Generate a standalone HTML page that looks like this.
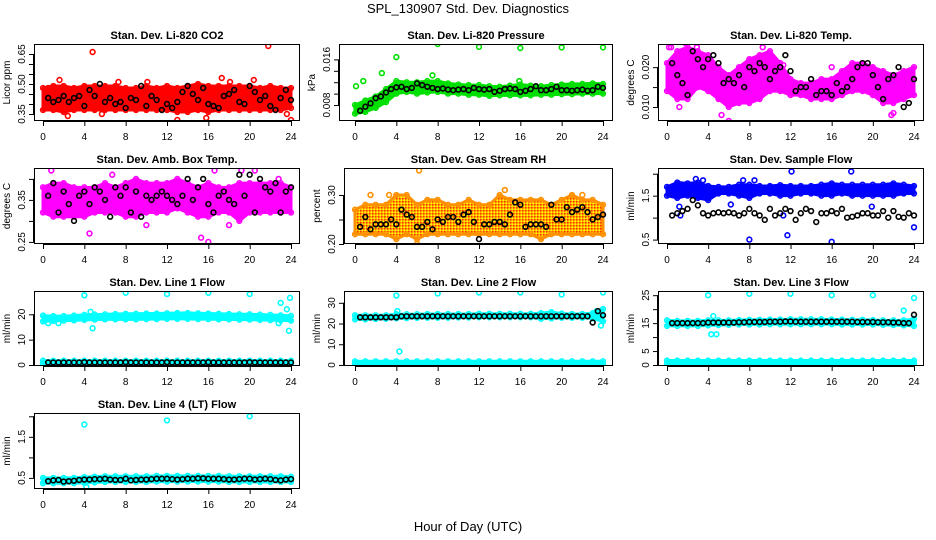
<!DOCTYPE html>
<html><head><meta charset="utf-8"><style>
html,body{margin:0;padding:0;background:#fff;}
svg{display:block;font-family:"Liberation Sans",Arial,sans-serif;}
</style></head><body>
<svg id="chart" width="936" height="540" viewBox="0 0 936 540" xmlns="http://www.w3.org/2000/svg">
<defs>
<pattern id="rhpat" width="3" height="3" patternUnits="userSpaceOnUse">
<rect width="3" height="3" fill="#ffb000"/>
<rect width="1.5" height="1.5" fill="#ff3000"/>
<rect x="1.5" y="1.5" width="1.5" height="1.5" fill="#ffff00"/>
</pattern>
</defs>
<rect width="936" height="540" fill="#fff"/>
<text x="468" y="13" text-anchor="middle" font-size="13">SPL_130907  Std. Dev. Diagnostics</text>
<text x="468" y="531" text-anchor="middle" font-size="13">Hour of Day (UTC)</text>
<g id="panels"></g>
</svg>
<script>
// ---- shared x data ----
const xTicks = [0,4,8,12,16,20,24];
const bandHours = [0,1,2,3,4,5,6,7,8,9,10,11,12,13,14,15,16,17,18,19,20,21,22,23,24];
const blackHours = [0.5,1,1.5,2,2.5,3,3.5,4,4.5,5,5.5,6,6.5,7,7.5,8,8.5,9,9.5,10,10.5,11,11.5,12,12.5,13,13.5,14,14.5,15,15.5,16,16.5,17,17.5,18,18.5,19,19.5,20,20.5,21,21.5,22,22.5,23,23.5,24];

// ---- panel 1: CO2 ----
const p1Lo = [0.37,0.37,0.36,0.37,0.37,0.37,0.37,0.37,0.37,0.37,0.37,0.37,0.37,0.36,0.36,0.37,0.36,0.37,0.37,0.37,0.37,0.37,0.37,0.37,0.38];
const p1Hi = [0.48,0.49,0.49,0.48,0.49,0.49,0.49,0.49,0.48,0.48,0.49,0.48,0.49,0.48,0.49,0.50,0.49,0.49,0.49,0.49,0.49,0.48,0.49,0.48,0.48];
const p1OutX = [4.8,21.8,24,1.6,17.3,20.4,13,15.8,2.4,0.5,7.3,10.1,18.1,5.7,23.6];
const p1OutY = [0.66,0.69,0.32,0.52,0.53,0.52,0.32,0.33,0.34,0.48,0.51,0.51,0.51,0.35,0.35];
const p1Black = [0.43,0.41,0.42,0.44,0.41,0.43,0.44,0.39,0.47,0.44,0.50,0.41,0.43,0.40,0.41,0.38,0.43,0.42,0.49,0.39,0.44,0.42,0.37,0.40,0.38,0.41,0.46,0.49,0.45,0.42,0.48,0.40,0.39,0.38,0.44,0.45,0.47,0.41,0.40,0.49,0.46,0.42,0.44,0.39,0.37,0.43,0.47,0.42];
// ---- panel 2: Pressure ----
const p2Lo = [0.0065,0.0068,0.0075,0.0085,0.0100,0.0103,0.0100,0.0102,0.0103,0.0100,0.0100,0.0098,0.0098,0.0096,0.0097,0.0097,0.0097,0.0097,0.0098,0.0098,0.0099,0.0099,0.0100,0.0100,0.0100];
const p2Hi = [0.0080,0.0088,0.0095,0.0108,0.0122,0.0120,0.0120,0.0122,0.0122,0.0118,0.0116,0.0115,0.0115,0.0113,0.0112,0.0114,0.0116,0.0114,0.0113,0.0115,0.0116,0.0117,0.0117,0.0118,0.0117];
const p2OutX = [0.1,0.8,2.6,4,8,12,16,20,24,7.5,15.9];
const p2OutY = [0.0113,0.0122,0.0136,0.0164,0.0187,0.0182,0.0180,0.0181,0.0181,0.0132,0.0122];
const p2Black = [0.0070,0.0077,0.0083,0.0092,0.0095,0.0102,0.0108,0.0111,0.0112,0.0108,0.0110,0.0118,0.0115,0.0112,0.0110,0.0108,0.0109,0.0107,0.0106,0.0107,0.0108,0.0106,0.0110,0.0108,0.0107,0.0108,0.0103,0.0105,0.0108,0.0109,0.0108,0.0103,0.0105,0.0108,0.0113,0.0106,0.0106,0.0108,0.0112,0.0106,0.0106,0.0105,0.0106,0.0107,0.0105,0.0106,0.0112,0.0110];
// ---- panel 3: Temp ----
const p3Lo = [0.014,0.012,0.012,0.015,0.014,0.012,0.010,0.011,0.011,0.012,0.014,0.014,0.013,0.013,0.012,0.012,0.012,0.013,0.014,0.014,0.013,0.011,0.011,0.012,0.013];
const p3Hi = [0.021,0.024,0.025,0.024,0.023,0.020,0.018,0.020,0.022,0.023,0.024,0.021,0.017,0.016,0.016,0.017,0.017,0.019,0.021,0.021,0.020,0.019,0.018,0.019,0.020];
const p3OutX = [0.2,1.8,6,5.3,1.2,21.8,22,16,11.3,9.3,0.4,2.9];
const p3OutY = [0.025,0.026,0.0065,0.008,0.010,0.008,0.0085,0.020,0.0205,0.025,0.025,0.025];
const p3Black = [0.021,0.018,0.016,0.013,0.024,0.022,0.020,0.022,0.023,0.021,0.016,0.017,0.016,0.018,0.015,0.020,0.019,0.021,0.020,0.017,0.019,0.020,0.023,0.019,0.014,0.015,0.015,0.017,0.013,0.014,0.014,0.013,0.016,0.014,0.015,0.017,0.020,0.021,0.021,0.018,0.015,0.012,0.017,0.018,0.020,0.010,0.011,0.017];
// ---- panel 4: Amb box temp ----
const p4Lo = [0.32,0.31,0.31,0.31,0.31,0.32,0.32,0.32,0.31,0.31,0.32,0.32,0.32,0.33,0.32,0.31,0.31,0.32,0.32,0.30,0.32,0.32,0.32,0.32,0.32];
const p4Hi = [0.38,0.39,0.39,0.38,0.38,0.38,0.39,0.38,0.39,0.40,0.39,0.39,0.39,0.40,0.39,0.38,0.39,0.38,0.38,0.39,0.39,0.39,0.39,0.39,0.38];
const p4OutX = [0.8,16.6,19.2,4.5,15.3,16,10,18,22.8,6.7,20.5];
const p4OutY = [0.42,0.42,0.42,0.27,0.26,0.25,0.29,0.29,0.40,0.41,0.42];
const p4Black = [0.36,0.39,0.32,0.37,0.34,0.30,0.36,0.37,0.34,0.38,0.37,0.35,0.31,0.38,0.36,0.38,0.32,0.37,0.31,0.36,0.35,0.36,0.37,0.36,0.35,0.34,0.36,0.40,0.35,0.38,0.40,0.34,0.32,0.36,0.37,0.35,0.34,0.41,0.36,0.41,0.32,0.40,0.38,0.37,0.39,0.32,0.37,0.38];
// ---- panel 5: RH ----
const p5Lo = [0.22,0.22,0.22,0.22,0.21,0.22,0.21,0.22,0.22,0.22,0.22,0.22,0.22,0.22,0.22,0.22,0.22,0.22,0.21,0.22,0.22,0.22,0.22,0.22,0.22];
const p5Hi = [0.27,0.28,0.28,0.28,0.30,0.30,0.28,0.29,0.29,0.28,0.28,0.29,0.28,0.28,0.30,0.29,0.29,0.29,0.29,0.28,0.29,0.30,0.29,0.29,0.28];
const p5OutX = [6.2,14.5,6,22,3.3,1.5];
const p5OutY = [0.35,0.31,0.20,0.30,0.30,0.30];
const p5Black = [0.235,0.255,0.23,0.24,0.24,0.24,0.25,0.24,0.27,0.26,0.255,0.235,0.235,0.245,0.23,0.25,0.245,0.255,0.255,0.245,0.26,0.265,0.245,0.21,0.24,0.24,0.245,0.245,0.24,0.26,0.285,0.28,0.235,0.24,0.24,0.24,0.235,0.28,0.25,0.25,0.275,0.265,0.27,0.275,0.265,0.25,0.255,0.26];
// ---- panel 6: Sample flow ----
const p6Lo = [1.5,1.45,1.5,1.45,1.4,1.55,1.55,1.5,1.45,1.55,1.55,1.5,1.5,1.55,1.55,1.5,1.5,1.55,1.5,1.5,1.5,1.5,1.5,1.55,1.55];
const p6Hi = [1.7,1.8,1.78,1.8,1.72,1.7,1.7,1.75,1.75,1.72,1.72,1.74,1.72,1.72,1.72,1.75,1.78,1.75,1.75,1.75,1.75,1.75,1.78,1.75,1.72];
const p6OutX = [8,11.7,16,24,12.1,17.9,2.8,7.4,1.2,6.2,19.9,1.3,11.3,8.5,3.5];
const p6OutY = [0.5,0.6,0.45,0.78,2.05,2.05,1.88,1.85,1.25,1.3,1.25,1.05,1.05,1.85,1.85];
const p6Black = [1.05,1.1,1.15,1.2,1.4,1.28,1.1,1.05,1.1,1.12,1.1,1.12,1.1,1.05,1.1,1.2,1.1,1.05,0.95,1.2,1.05,1.1,1.2,1.15,0.95,1.1,1.2,1.15,0.9,1.1,1.1,1.15,1.1,1.2,1.0,1.02,1.05,1.1,1.1,1.05,1.05,1.15,1.0,1.15,1.02,1.0,1.1,1.05];
// ---- panel 7: Line 1 ----
const p7Lo = [17.2,17.4,17.5,17.6,17.8,17.9,18,18,18,18,18.1,18.1,18.2,18.2,18.2,18.1,18.1,18,18,17.9,17.9,17.8,17.7,17.6,17.5];
const p7Hi = [19.5,19.3,19.3,19.5,19.8,19.9,20,20.1,20.2,20.2,20.3,20.3,20.4,20.5,20.5,20.4,20.3,20.2,20.1,20,20,19.9,19.8,19.6,19.4];
const p7Lo2 = [0.6,0.6,0.6,0.6,0.6,0.6,0.6,0.6,0.6,0.6,0.6,0.6,0.6,0.6,0.6,0.6,0.6,0.6,0.6,0.6,0.6,0.6,0.6,0.6,0.6];
const p7Hi2 = [1.7,1.7,1.7,1.7,1.7,1.7,1.7,1.7,1.7,1.7,1.7,1.7,1.7,1.7,1.7,1.7,1.7,1.7,1.7,1.7,1.7,1.7,1.7,1.7,1.7];
const p7OutX = [4,8,12,16,20,23,23.6,23.9,4.8,23.8,0.5,1.5,4.6,22.8];
const p7OutY = [27.5,28.5,28,28.5,28,24.5,22,26.5,14.5,13.5,16.5,16.5,21,16.5];
const p7Black = [1,1,1,1,1,1,1,1.1,1,1,1,1,1,1,1,1.1,1,1,1,1,1,1,1,1.1,1,1,1,1,1,1,1,1.1,1,1,1,1,1,1,1,1.1,1,1,1,1,1,1,1,1];
// ---- panel 8: Line 2 ----
const p8Lo = [22,22,22.2,22.3,22.5,22.6,22.7,22.8,22.8,22.8,22.9,22.9,23,23,23,23,23,23,22.3,22.5,22.8,22.8,22.8,22.5,21];
const p8Hi = [24,24,24,24,24.5,24.5,24.5,24.6,24.6,24.6,24.6,24.6,24.7,24.7,24.7,24.7,24.7,24.7,25,25.5,24.8,24.6,24.6,25,27];
const p8Lo2 = [0.5,0.5,0.5,0.5,0.5,0.5,0.5,0.5,0.5,0.5,0.5,0.5,0.5,0.5,0.5,0.5,0.5,0.5,0.5,0.5,0.5,0.5,0.5,0.5,0.5];
const p8Hi2 = [1.8,1.8,1.8,1.8,1.8,1.8,1.8,1.8,1.8,1.8,1.8,1.8,1.8,1.8,1.8,1.8,1.8,1.8,1.8,1.8,1.8,1.8,1.8,1.8,1.8];
const p8OutX = [4,8,12,16,20,24,4.3,4.1,23.4,23.8];
const p8OutY = [33.5,34.5,35,35,34,35,6.5,26,26,19];
const p8Black = [23,23,23,23,23,23,23,23,23.5,23.5,23.5,23.5,23.5,23.5,23.5,23.5,23.5,23.5,23.5,23.5,23.5,23.5,23.5,23.5,23.5,23.5,23.5,23.5,23.5,23.5,23.5,23.5,23.5,23.5,23.5,23.5,23.5,23.5,23.5,23.5,23.5,23.5,23.5,23.5,23.5,20.5,26,24];
// ---- panel 9: Line 3 ----
const p9Lo = [14,14,14,14,14.2,14.3,14.4,14.5,14.5,14.5,14.6,14.6,14.6,14.6,14.6,14.6,14.6,14.5,14.5,14.5,14.5,14.4,14.3,14.2,14];
const p9Hi = [16,15.8,15.8,15.8,16,16,16,16.1,16.2,16.2,16.3,16.3,16.4,16.4,16.4,16.4,16.3,16.3,16.2,16.2,16.1,16,16,16,16.5];
const p9Lo2 = [0.5,0.5,0.5,0.5,0.5,0.5,0.5,0.5,0.5,0.5,0.5,0.5,0.5,0.5,0.5,0.5,0.5,0.5,0.5,0.5,0.5,0.5,0.5,0.5,0.5];
const p9Hi2 = [1.6,1.6,1.6,1.6,1.6,1.6,1.6,1.6,1.6,1.6,1.6,1.6,1.6,1.6,1.6,1.6,1.6,1.6,1.6,1.6,1.6,1.6,1.6,1.6,1.6];
const p9OutX = [4,8,12,16,20,24,23,4.5,4.3,4.8];
const p9OutY = [25,25.5,25.5,25,25,24,19.5,17.5,11,11];
const p9Black = [15,15,15,15,15,15,15,15.2,15.2,15.2,15.2,15.2,15.2,15.3,15.3,15.4,15.4,15.4,15.4,15.5,15.5,15.5,15.6,15.6,15.5,15.5,15.5,15.5,15.5,15.5,15.5,15.5,15.5,15.5,15.5,15.5,15.4,15.4,15.4,15.4,15.3,15.3,15.3,15.2,15.2,15,15,18];
// ---- panel 10: Line 4 ----
const p10Lo = [0.37,0.37,0.37,0.37,0.38,0.39,0.4,0.4,0.4,0.4,0.4,0.41,0.41,0.41,0.41,0.41,0.41,0.41,0.4,0.4,0.4,0.4,0.4,0.4,0.4];
const p10Hi = [0.5,0.5,0.5,0.5,0.52,0.53,0.54,0.54,0.54,0.54,0.54,0.55,0.55,0.55,0.55,0.55,0.55,0.55,0.54,0.54,0.54,0.54,0.54,0.54,0.53];
const p10OutX = [4,12,20,4.2];
const p10OutY = [1.8,1.9,2.0,0.28];
const p10Black = [0.42,0.44,0.45,0.41,0.42,0.43,0.45,0.46,0.46,0.47,0.47,0.48,0.46,0.45,0.45,0.48,0.44,0.45,0.46,0.46,0.47,0.48,0.48,0.48,0.47,0.46,0.47,0.48,0.48,0.49,0.49,0.48,0.48,0.48,0.47,0.46,0.46,0.47,0.48,0.48,0.46,0.47,0.48,0.47,0.45,0.44,0.46,0.47];

const panels = [
 {name:'co2',title:'Stan. Dev. Li-820 CO2',ylab:'Licor ppm',box:[34,44,300,121],x0:43,x1:291,ylim:[0.315,0.70],ticks:[0.35,0.40,0.45,0.50,0.55,0.60,0.65],labels:['0.35','','','0.50','','','0.65'],col:'#ff0000',bands:[[p1Lo,p1Hi]],ox:p1OutX,oy:p1OutY,bk:p1Black},
 {name:'pressure',title:'Stan. Dev. Li-820 Pressure',ylab:'kPa',box:[339,44,613,121],x0:355,x1:603,ylim:[0.0052,0.0187],ticks:[0.008,0.010,0.012,0.014,0.016],labels:['0.008','','','','0.016'],col:'#00e000',bands:[[p2Lo,p2Hi]],ox:p2OutX,oy:p2OutY,bk:p2Black},
 {name:'temp',title:'Stan. Dev. Li-820 Temp.',ylab:'degrees C',box:[658,44,924,121],x0:667,x1:914,ylim:[0.0065,0.0258],ticks:[0.010,0.015,0.020],labels:['0.010','','0.020'],col:'#ff00ff',bands:[[p3Lo,p3Hi]],ox:p3OutX,oy:p3OutY,bk:p3Black},
 {name:'amb-box-temp',title:'Stan. Dev. Amb. Box Temp.',ylab:'degrees C',box:[34,168,300,244],x0:43,x1:291,ylim:[0.245,0.426],ticks:[0.25,0.30,0.35,0.40],labels:['0.25','','0.35',''],col:'#ff00ff',bands:[[p4Lo,p4Hi]],ox:p4OutX,oy:p4OutY,bk:p4Black},
 {name:'gas-rh',title:'Stan. Dev. Gas Stream RH',ylab:'percent',box:[344,168,613,244],x0:355,x1:603,ylim:[0.20,0.355],ticks:[0.20,0.25,0.30],labels:['0.20','','0.30'],col:'#ffa000',fill:'url(#rhpat)',edge:'#ff9000',bands:[[p5Lo,p5Hi]],ox:p5OutX,oy:p5OutY,bk:p5Black},
 {name:'sample-flow',title:'Stan. Dev. Sample Flow',ylab:'ml/min',box:[658,168,924,244],x0:667,x1:914,ylim:[0.4,2.13],ticks:[0.5,1.0,1.5,2.0],labels:['0.5','','1.5',''],col:'#0000ff',bands:[[p6Lo,p6Hi]],ox:p6OutX,oy:p6OutY,bk:p6Black},
 {name:'line1-flow',title:'Stan. Dev. Line 1 Flow',ylab:'ml/min',box:[34,291,300,366],x0:43,x1:291,ylim:[-0.4,29.2],ticks:[0,10,20],labels:['0','10','20'],col:'#00ffff',bands:[[p7Lo,p7Hi],[p7Lo2,p7Hi2]],ox:p7OutX,oy:p7OutY,bk:p7Black},
 {name:'line2-flow',title:'Stan. Dev. Line 2 Flow',ylab:'ml/min',box:[344,291,613,366],x0:355,x1:603,ylim:[-0.5,35.7],ticks:[0,10,20,30],labels:['0','10','20','30'],col:'#00ffff',bands:[[p8Lo,p8Hi],[p8Lo2,p8Hi2]],ox:p8OutX,oy:p8OutY,bk:p8Black},
 {name:'line3-flow',title:'Stan. Dev. Line 3 Flow',ylab:'ml/min',box:[658,291,924,366],x0:667,x1:914,ylim:[-0.35,26.5],ticks:[0,5,10,15,20,25],labels:['0','5','','15','','25'],col:'#00ffff',bands:[[p9Lo,p9Hi],[p9Lo2,p9Hi2]],ox:p9OutX,oy:p9OutY,bk:p9Black},
 {name:'line4-flow',title:'Stan. Dev. Line 4 (LT) Flow',ylab:'ml/min',box:[34,413,300,489],x0:43,x1:291,ylim:[0.23,2.08],ticks:[0.5,1.0,1.5,2.0],labels:['0.5','','1.5',''],col:'#00ffff',bands:[[p10Lo,p10Hi]],ox:p10OutX,oy:p10OutY,bk:p10Black}
];

const NS='http://www.w3.org/2000/svg';
function mk(tag,attrs,parent){const e=document.createElementNS(NS,tag);for(const k in attrs)e.setAttribute(k,attrs[k]);parent.appendChild(e);return e;}
const root=document.getElementById('panels');
panels.forEach(p=>{
  const [L,T,R,B]=p.box;
  const sx=h=>p.x0+(h-0)/24*(p.x1-p.x0);
  const sy=v=>B-(v-p.ylim[0])/(p.ylim[1]-p.ylim[0])*(B-T);
  const g=mk('g',{},root);
  
  
  const clipId='clip-'+p.name;
  const cp=mk('clipPath',{id:clipId},g);mk('rect',{x:L,y:T,width:R-L,height:B-T},cp);
  const plot=mk('g',{'clip-path':'url(#'+clipId+')'},g);
  const ec=p.edge||p.col;
  p.bands.forEach((bd,bi)=>{
    const lo=bd[0],hi=bd[1];
    let d='';
    bandHours.forEach((h,i)=>{d+=(i?'L':'M')+sx(h)+','+sy(hi[i]);});
    for(let i=bandHours.length-1;i>=0;i--)d+='L'+sx(bandHours[i])+','+sy(lo[i]);
    const band=mk('path',{d:d+'Z',fill:p.fill||p.col,stroke:ec,'stroke-width':3,'stroke-linejoin':'round'},plot);
    
    
    bandHours.forEach((h,i)=>{
      [lo[i],hi[i]].forEach(v=>{
        const c=mk('circle',{cx:sx(h),cy:sy(v),r:2.4,fill:'none',stroke:ec,'stroke-width':1.5},plot);
        
        
      });
    });
  });
  p.ox.forEach((h,i)=>{
    const c=mk('circle',{cx:sx(h),cy:sy(p.oy[i]),r:2.4,fill:'none',stroke:ec,'stroke-width':1.6},plot);
    
    
  });
  p.bk.forEach((v,i)=>{
    const c=mk('circle',{cx:sx(blackHours[i]),cy:sy(v),r:2.4,fill:'none',stroke:'#000','stroke-width':1.6},plot);
    
    
  });
  const fr=mk('rect',{x:L+0.5,y:T+0.5,width:R-L-1,height:B-T-1,fill:'none',stroke:'#000','stroke-width':1},g);
  
  
  const tt=mk('text',{x:(L+R)/2,y:T-5,'text-anchor':'middle','font-size':11,'font-weight':'bold'},g);
  tt.textContent=p.title;
  
  
  mk('line',{x1:sx(0),x2:sx(24),y1:B+0.5,y2:B+0.5,stroke:'#000'},g);
  xTicks.forEach(h=>{
    mk('line',{x1:sx(h)+0.5,x2:sx(h)+0.5,y1:B,y2:B+5,stroke:'#000'},g);
    const t=mk('text',{x:sx(h),y:B+19,'text-anchor':'middle','font-size':10},g);
    t.textContent=h;
    
    
  });
  mk('line',{x1:L-0.5,x2:L-0.5,y1:sy(p.ticks[0]),y2:sy(p.ticks[p.ticks.length-1]),stroke:'#000'},g);
  p.ticks.forEach((v,i)=>{
    const y=sy(v);
    mk('line',{x1:L-5,x2:L,y1:y+0.5,y2:y+0.5,stroke:'#000'},g);
    if(p.labels[i]){
      const t=mk('text',{x:L-9,y:y,'text-anchor':'middle','font-size':10,transform:'rotate(-90 '+(L-9)+' '+y+')'},g);
      t.textContent=p.labels[i];
      
      
    }
  });
  const yl=mk('text',{x:L-24,y:(T+B)/2,'text-anchor':'middle','font-size':10,transform:'rotate(-90 '+(L-24)+' '+((T+B)/2)+')'},g);
  yl.textContent=p.ylab;
  
  
});
</script>
</body></html>
